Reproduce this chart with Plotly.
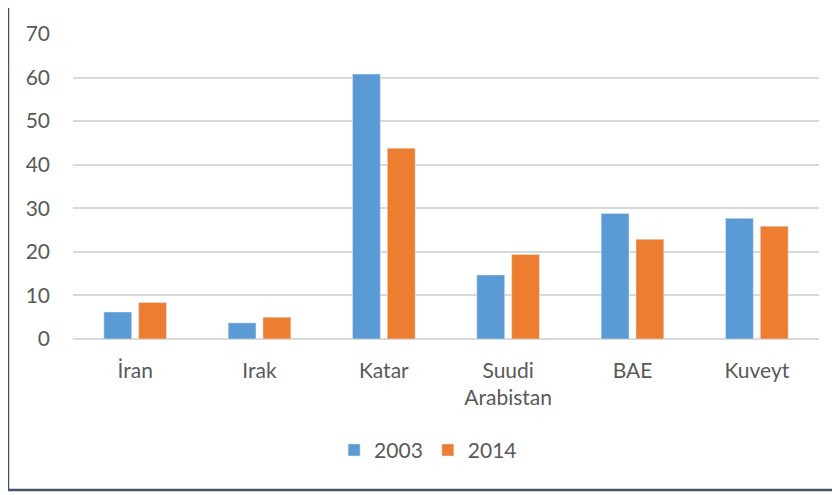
import plotly.graph_objects as go

ulkeler = ["İran", "Irak", "Katar", "Suudi<br>Arabistan", "BAE", "Kuveyt"]
y2003 = [6.2, 3.7, 60.8, 14.7, 28.8, 27.7]
y2014 = [8.4, 5.0, 43.8, 19.4, 22.9, 25.9]

font = dict(family="Lato, Open Sans, sans-serif", size=21, color="#595959")

fig = go.Figure()
fig.add_trace(go.Bar(x=ulkeler, y=y2003, name="2003", marker_color="#5b9bd5"))
fig.add_trace(go.Bar(x=ulkeler, y=y2014, name="2014", marker_color="#ed7d31"))

# sayfa 8px kenar boşluğu ile açılıyor, o yüzden sol/üst 8px az
fig.update_layout(
    width=840, height=495,
    margin=dict(l=65, r=29, t=20, b=164),
    plot_bgcolor="white", paper_bgcolor="white",
    font=font,
    barmode="group", bargap=0.44, bargroupgap=0.2,
    legend=dict(orientation="h", x=0.476, xanchor="center", y=-0.365, yanchor="middle",
                font=font, itemwidth=30),
    xaxis=dict(showgrid=False, showline=False, ticks="", ticklabelstandoff=17),
    yaxis=dict(range=[0, 70], dtick=10, showgrid=True, gridcolor="#d9d9d9", gridwidth=1.5,
               zeroline=True, zerolinecolor="#d9d9d9", zerolinewidth=1.5,
               ticks="", ticklabelstandoff=22),
)

# çerçeve
fig.add_shape(type="line", xref="paper", yref="paper",
              x0=-0.0871, x1=-0.0871, y0=-0.495, y1=1.09,
              line=dict(color="#44546a", width=2.5))
fig.add_shape(type="line", xref="paper", yref="paper",
              x0=-0.0871, x1=1.03, y0=-0.495, y1=-0.495,
              line=dict(color="#44546a", width=2.5))
fig.add_shape(type="line", xref="paper", yref="paper",
              x0=-0.0871, x1=1.03, y0=1.089, y1=1.089,
              line=dict(color="#8c96a3", width=1))

fig.write_html("out.html")
